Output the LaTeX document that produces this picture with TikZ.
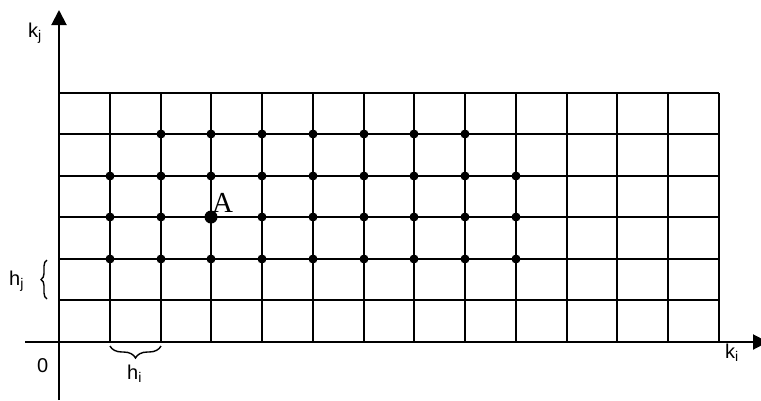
\documentclass[tikz,border=0pt]{standalone}
\usepackage{fontspec}
\setmainfont{Liberation Sans}
\newfontfamily\seriffont{Liberation Serif}
\usetikzlibrary{arrows.meta,decorations.pathreplacing}
\begin{document}
\begin{tikzpicture}[x=1pt,y=-1pt,
  gridline/.style={line width=2pt},
  axis/.style={line width=2pt,-{Triangle[length=15pt,width=15pt]}},
  dot/.style={circle,fill=black,inner sep=0pt,minimum size=9pt},
  bigdot/.style={circle,fill=black,inner sep=0pt,minimum size=13pt},
  lbl/.style={inner sep=0pt,anchor=base west,font=\fontsize{20}{24}\selectfont},
  bracestyle/.style={line width=1.4pt,decorate,decoration={brace,amplitude=#1}}]
\useasboundingbox (0,0) rectangle (761,400);
\clip (0,0) rectangle (761,400);
% grid
\foreach \x in {59,110,161,211,262,313,364,414,465,516,567,617,668,719}
  \draw[gridline] (\x,93) -- (\x,342);
\foreach \y in {93,134,176,217,259,300,342}
  \draw[gridline] (59,\y) -- (719,\y);
% axes
\coordinate (ystart) at (59,400);
\coordinate (ytip) at (59,10);
\coordinate (xstart) at (25,342);
\coordinate (xtip) at (768,342);
\draw[axis] (ystart) -- (ytip);
\draw[axis] (xstart) -- (xtip);
% dots
\foreach \x [count=\k] in {161,211,262,313,364,414,465}
  \node[dot] (d1-\k) at (\x,134) {};
\foreach \y [count=\r] in {176,217,259}
  \foreach \x [count=\k] in {110,161,211,262,313,364,414,465,516}
    \node[dot] (d\r-\k) at (\x,\y) {};
\node[bigdot] (pA) at (211,217) {};
% labels
\node[lbl] (kj) at (28,37.7) {k\textsubscript{j}};
\node[lbl] (hj) at (9,285) {h\textsubscript{j}};
\node[lbl] (zero) at (37,372) {0};
\node[lbl] (hi) at (127,379) {h\textsubscript{i}};
\node[lbl] (ki) at (725,358) {k\textsubscript{i}};
\node[inner sep=0pt,anchor=base west,font=\seriffont\fontsize{29}{32}\selectfont] (A) at (212,212) {A};
% braces
\coordinate (hjb1) at (47,299);
\coordinate (hjb2) at (47,260);
\draw[bracestyle=6pt] (hjb1) -- (hjb2);
\coordinate (hib1) at (161,346);
\coordinate (hib2) at (110,346);
\draw[bracestyle=12pt] (hib1) -- (hib2);
\end{tikzpicture}
\end{document}
